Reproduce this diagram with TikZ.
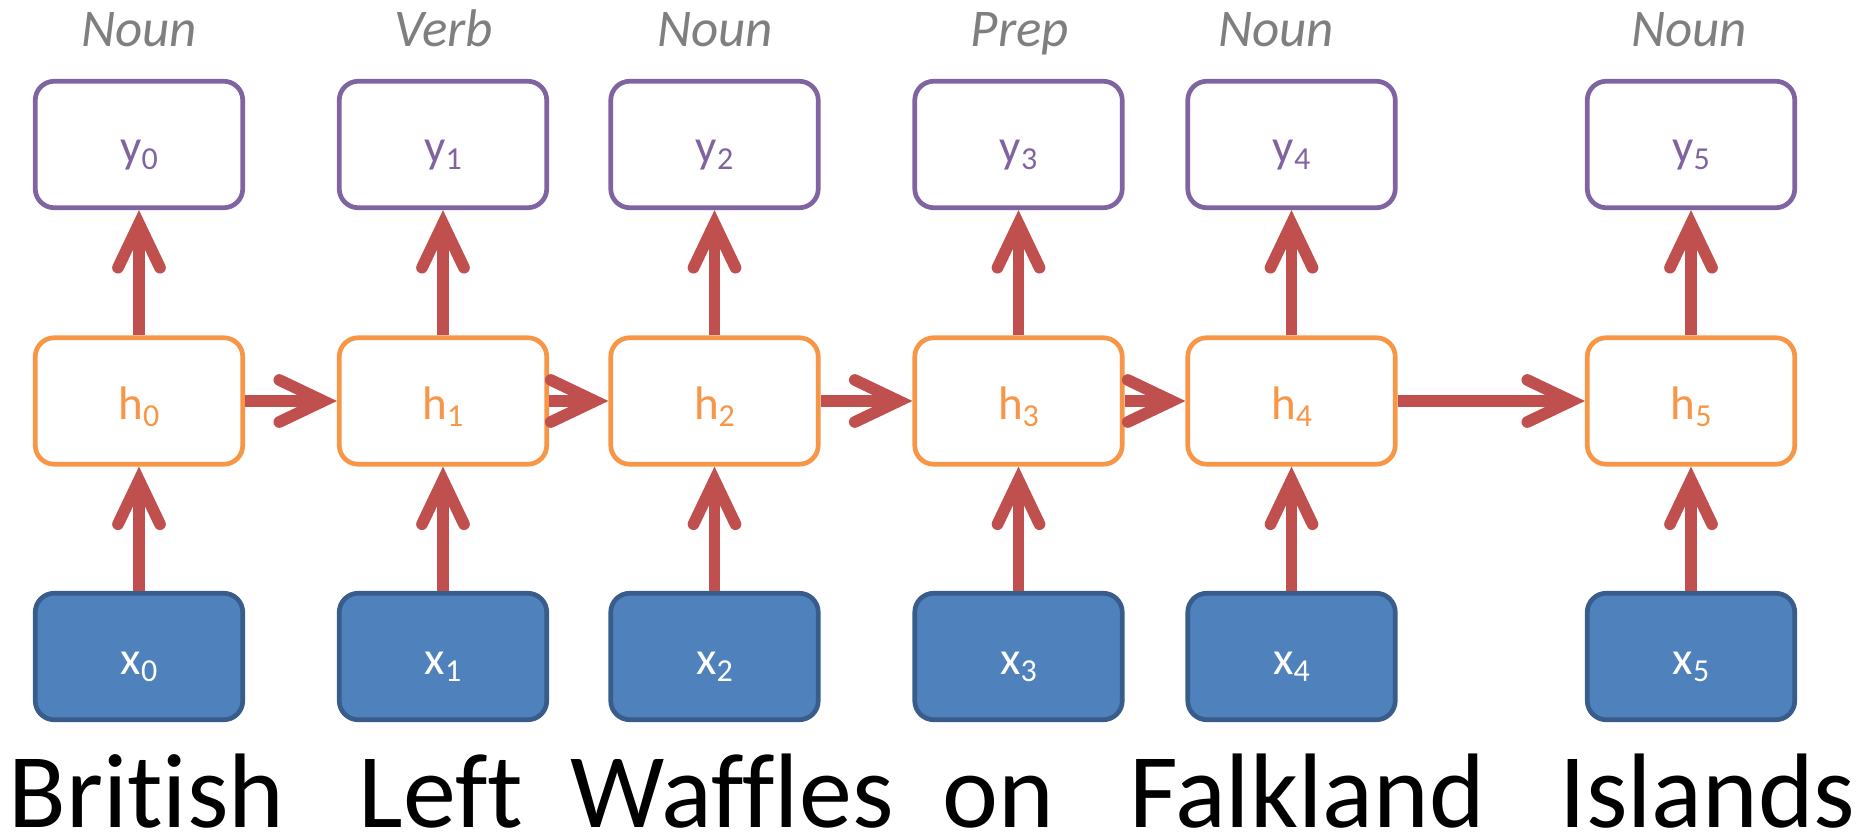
\documentclass[tikz,border=0pt]{standalone}
\usepackage{fontspec}
\setmainfont{Carlito}[Ligatures=CommonOff]
\usetikzlibrary{arrows.meta}
\definecolor{cpurple}{HTML}{8064A2}
\definecolor{corange}{HTML}{F79646}
\definecolor{cbluefill}{HTML}{4F81BD}
\definecolor{cblueline}{HTML}{385D8A}
\definecolor{cred}{HTML}{C0504D}
\definecolor{cgrey}{HTML}{7F7F7F}
\newcommand\sbx[1]{\raisebox{-7pt}{\fontsize{32}{32}\selectfont #1}}
\tikzset{
  cell/.style={rectangle, rounded corners=19pt, line width=4.7pt,
    minimum width=207.5pt, minimum height=126.5pt, inner sep=0pt,
    text height=36pt, text depth=0pt, font=\fontsize{47}{47}\selectfont},
  ycell/.style={cell, draw=cpurple, fill=white, text=cpurple},
  hcell/.style={cell, draw=corange, fill=white, text=corange},
  xcell/.style={cell, draw=cblueline, fill=cbluefill, text=white},
  lbl/.style={anchor=base, text=cgrey, font=\fontsize{53}{53}\selectfont\itshape, inner sep=0pt},
  word/.style={anchor=base, text=black, font=\fontsize{106}{106}\selectfont, inner sep=0pt},
  conn/.style={draw=cred, line width=11.7pt,
    -{Straight Barb[length=44pt, width=42pt, line cap=round, line join=miter]}},
}
\begin{document}
\begin{tikzpicture}[x=1pt, y=-1pt]
\useasboundingbox (0,0) rectangle (1866,834);
% y row
\node[ycell] (y0) at (139,144.5) {y\sbx{0}};
\node[ycell] (y1) at (443,144.5) {y\sbx{1}};
\node[ycell] (y2) at (714.5,144.5) {y\sbx{2}};
\node[ycell] (y3) at (1018.5,144.5) {y\sbx{3}};
\node[ycell] (y4) at (1291.5,144.5) {y\sbx{4}};
\node[ycell] (y5) at (1691,144.5) {y\sbx{5}};
% h row
\node[hcell] (h0) at (139,401) {h\sbx{0}};
\node[hcell] (h1) at (443,401) {h\sbx{1}};
\node[hcell] (h2) at (714.5,401) {h\sbx{2}};
\node[hcell] (h3) at (1018.5,401) {h\sbx{3}};
\node[hcell] (h4) at (1291.5,401) {h\sbx{4}};
\node[hcell] (h5) at (1691,401) {h\sbx{5}};
% x row
\node[xcell] (x0) at (139,656.5) {x\sbx{0}};
\node[xcell] (x1) at (443,656.5) {x\sbx{1}};
\node[xcell] (x2) at (714.5,656.5) {x\sbx{2}};
\node[xcell] (x3) at (1018.5,656.5) {x\sbx{3}};
\node[xcell] (x4) at (1291.5,656.5) {x\sbx{4}};
\node[xcell] (x5) at (1691,656.5) {x\sbx{5}};
% tags
\node[lbl] (t0) at (139,47) {Noun};
\node[lbl] (t1) at (444,47) {Verb};
\node[lbl] (t2) at (715,47) {Noun};
\node[lbl] (t3) at (1020,47) {Prep};
\node[lbl] (t4) at (1276,47) {Noun};
\node[lbl] (t5) at (1689,47) {Noun};
% words
\node[word] (w0) at (146.5,827) {British};
\node[word] (w1) at (441,827) {Left};
\node[word] (w2) at (732,827) {Waffles};
\node[word] (w3) at (998,827) {on};
\node[word] (w4) at (1307,827) {Falkland};
\node[word] (w5) at (1707.5,827) {Islands};
% connectors
\foreach \i in {0,...,5}{
  \draw[conn] (x\i) -- (h\i);
  \draw[conn] (h\i) -- (y\i);
}
\draw[conn] (h0) -- (h1);
\draw[conn] (h1) -- (h2);
\draw[conn] (h2) -- (h3);
\draw[conn] (h3) -- (h4);
\draw[conn] (h4) -- (h5);
\end{tikzpicture}
\end{document}
